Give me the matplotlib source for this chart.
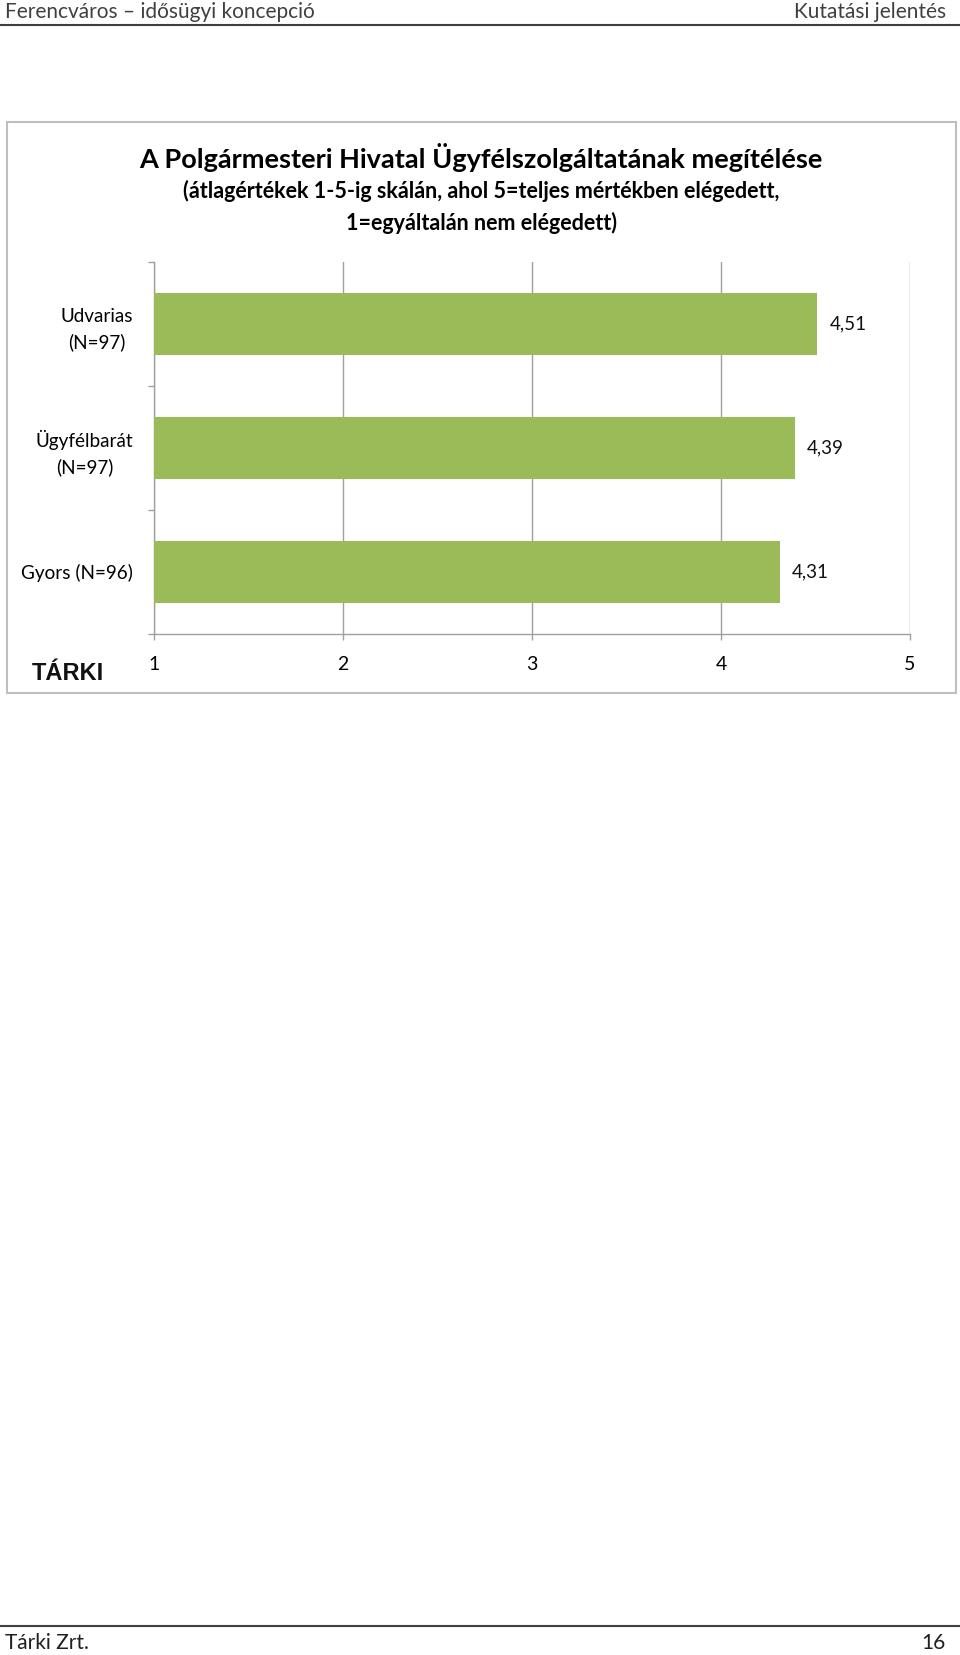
import numpy as np
import matplotlib
matplotlib.use("Agg")
import matplotlib.pyplot as plt
from matplotlib.patches import Rectangle
from matplotlib.lines import Line2D

# chart data
categories = ['Udvarias\n(N=97)', 'Ügyfélbarát\n(N=97)', 'Gyors (N=96)']
values = [4.51, 4.39, 4.31]
value_labels = ['4,51', '4,39', '4,31']
x_ticks = [1, 2, 3, 4, 5]

title = 'A Polgármesteri Hivatal Ügyfélszolgáltatának megítélése'
subtitle = '(átlagértékek 1-5-ig skálán, ahol 5=teljes mértékben elégedett,\n1=egyáltalán nem elégedett)'
header_left = 'Ferencváros – idősügyi koncepció'
header_right = 'Kutatási jelentés'
footer_left = 'Tárki Zrt.'
footer_right = '16'

W, H = 960, 1655
BAR_COLOR = '#9BBB59'
GRID_COLOR = '#A0A0A0'

plt.rcParams['font.family'] = ['Lato', 'DejaVu Sans']

fig = plt.figure(figsize=(W / 100, H / 100), dpi=100)


def fx(x):
    return x / W


def fy(y):
    return 1 - y / H


# page header / footer
fig.text(fx(5), fy(12), header_left, fontsize=15, color='#404040', ha='left', va='center')
fig.text(fx(946), fy(12), header_right, fontsize=15, color='#404040', ha='right', va='center')
fig.add_artist(Line2D([0, 1], [fy(25), fy(25)], color='#404040', lw=1.5))
fig.add_artist(Line2D([0, 1], [fy(1626), fy(1626)], color='#404040', lw=1.5))
fig.text(fx(5), fy(1643), footer_left, fontsize=15, color='#202020', ha='left', va='center')
fig.text(fx(946), fy(1643), footer_right, fontsize=15, color='#202020', ha='right', va='center')

# chart frame
fig.add_artist(Rectangle((fx(7), fy(693)), fx(956) - fx(7), fy(122) - fy(693),
                         fill=False, edgecolor='#BFBFBF', lw=1.5))

fig.text(fx(481), fy(158), title, fontsize=19.5, fontweight='bold', ha='center', va='center')
fig.text(fx(481), fy(207), subtitle, fontsize=15.5, fontweight='bold', ha='center', va='center',
         linespacing=1.55)

fig.text(fx(32), fy(674), 'TÁRKI', fontsize=17, fontweight='heavy',
         family=['Liberation Sans', 'DejaVu Sans'], ha='left', va='center', color='#111111')

# plot area
ax = fig.add_axes([fx(154), fy(634), fx(910) - fx(154), fy(261.7) - fy(634)])
y = np.arange(len(categories))
ax.barh(y, values, height=0.5, color=BAR_COLOR, zorder=3)
ax.set_xlim(1, 5)
ax.set_ylim(len(categories) - 0.5, -0.5)

for yi, v, lab in zip(y, values, value_labels):
    ax.text(v + 0.065, yi, lab, fontsize=13.5, ha='left', va='center', color='#111111')

ax.set_xticks(x_ticks)
ax.set_xticklabels([str(t) for t in x_ticks], fontsize=14)
ax.set_yticks(y)
ax.set_yticklabels(categories, fontsize=13.6, multialignment='center', linespacing=1.55)
ax.set_yticks(np.arange(-0.5, len(categories)), minor=True)

ax.tick_params(axis='y', which='major', length=0, pad=15)
ax.tick_params(axis='y', which='minor', length=4.5, width=1, color=GRID_COLOR, direction='out')
ax.tick_params(axis='x', which='major', length=4.5, width=1, color=GRID_COLOR, direction='out', pad=11)

ax.grid(axis='x', color=GRID_COLOR, lw=1, zorder=0)
for s in ['top', 'right']:
    ax.spines[s].set_visible(False)
for s in ['left', 'bottom']:
    ax.spines[s].set_color(GRID_COLOR)
    ax.spines[s].set_linewidth(1)

fig.savefig('out.png', dpi=100)
